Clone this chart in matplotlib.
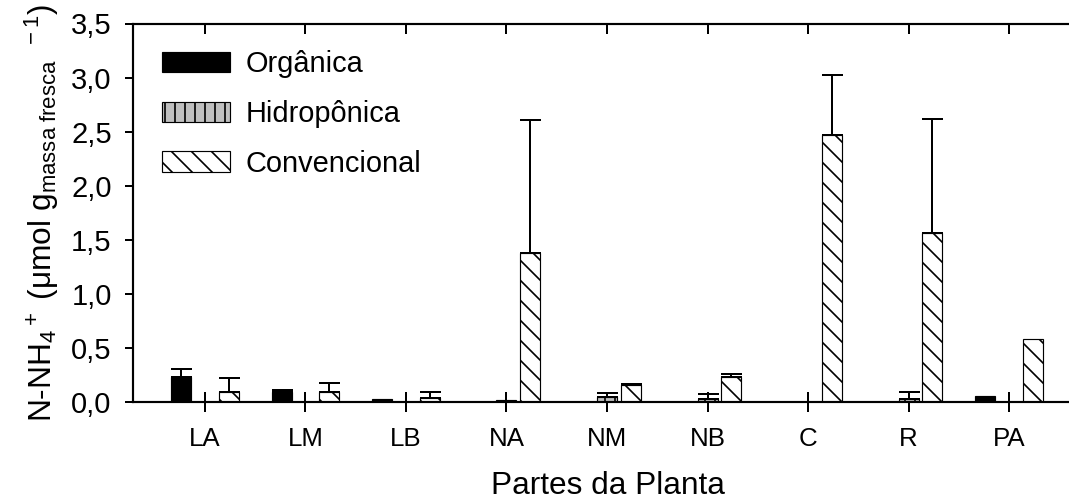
import numpy as np
import matplotlib
matplotlib.use("Agg")
import matplotlib.pyplot as plt

plt.rcParams['font.family'] = ['Liberation Sans', 'DejaVu Sans']
plt.rcParams['mathtext.fontset'] = 'custom'
plt.rcParams['mathtext.rm'] = 'Liberation Sans'
plt.rcParams['mathtext.it'] = 'Liberation Sans:italic'
plt.rcParams['mathtext.bf'] = 'Liberation Sans:bold'
plt.rcParams['hatch.linewidth'] = 1.0

categories = ['LA', 'LM', 'LB', 'NA', 'NM', 'NB', 'C', 'R', 'PA']
organica = [0.234, 0.09, 0.03, 0.0, 0.0, 0.0, 0.0, 0.0, 0.055]
organica_err = [0.071, 0.018, 0.0, 0.0, 0.0, 0.0, 0.0, 0.0, 0.0]
hidroponica = [0.0, 0.0, 0.0, 0.02, 0.043, 0.03, 0.0, 0.025, 0.0]
hidroponica_err = [0.0, 0.0, 0.0, 0.0, 0.037, 0.044, 0.0, 0.065, 0.0]
convencional = [0.095, 0.095, 0.04, 1.375, 0.16, 0.235, 2.466, 1.565, 0.58]
convencional_err = [0.13, 0.085, 0.05, 1.23, 0.005, 0.025, 0.554, 1.05, 0.0]
series_names = ['Orgânica', 'Hidropônica', 'Convencional']
yticks = [0.0, 0.5, 1.0, 1.5, 2.0, 2.5, 3.0, 3.5]

DPI = 120
fig = plt.figure(figsize=(1069 / DPI, 499 / DPI), dpi=DPI)
ax = fig.add_axes([133 / 1069, 97 / 499, (1083 - 133) / 1069, (402 - 23.5) / 499])

x = np.arange(len(categories))
w = 0.199
off = 0.235
styles = [
    dict(color='black', edgecolor='black', hatch=None),
    dict(color='#c0c0c0', edgecolor='black', hatch='||'),
    dict(color='white', edgecolor='black', hatch='\\\\'),
]
data = [(organica, organica_err), (hidroponica, hidroponica_err), (convencional, convencional_err)]
handles = []
for i, ((vals, errs), st, name) in enumerate(zip(data, styles, series_names)):
    pos = x + (i - 1) * off
    b = ax.bar(pos, vals, width=w, color=st['color'], edgecolor=st['edgecolor'],
               hatch=st['hatch'], linewidth=0.7, label=name, zorder=2)
    handles.append(b)
    vals_a = np.array(vals)
    errs_a = np.array(errs)
    m = errs_a > 0
    if m.any():
        ax.errorbar(pos[m], vals_a[m], yerr=[np.zeros(m.sum()), errs_a[m]], fmt='none',
                    ecolor='black', elinewidth=1.2, capsize=6.3, capthick=1.2, zorder=3)

ax.set_xlim(-0.716, 8.736)
ax.set_ylim(0, 3.5)
ax.set_yticks(yticks)
ax.set_yticklabels([f'{v:.1f}'.replace('.', ',') for v in yticks], fontsize=17.5)
ax.set_xticks(x)
ax.set_xticklabels(categories, fontsize=15.5)

for s in ax.spines.values():
    s.set_linewidth(1.3)

ax.tick_params(axis='y', direction='out', length=4.8, width=1.2, pad=8, right=False)
ax.tick_params(axis='x', direction='inout', length=12, width=1.2, pad=9, top=False)

# top ticks at category positions (pointing in)
sec = ax.secondary_xaxis('top')
sec.set_xticks(x)
sec.set_xticklabels([])
sec.tick_params(direction='in', length=6.5, width=1.2)
sec.spines['top'].set_visible(False)

ax.set_xlabel('Partes da Planta', fontsize=19, labelpad=12)
ax.set_ylabel(r'N-NH$_4$$^+$ ($\mathregular{\mu}$mol g$_{\mathregular{massa\ fresca}}$$^{\ \ -1}$)',
              fontsize=19, labelpad=6)

leg = ax.legend(handles=handles, labels=series_names, loc='upper left',
                bbox_to_anchor=(0.018, 0.96), frameon=False, fontsize=17.4,
                handlelength=2.35, handleheight=0.7, labelspacing=0.75,
                handletextpad=0.55, borderaxespad=0)

fig.savefig('out.png', dpi=DPI)
